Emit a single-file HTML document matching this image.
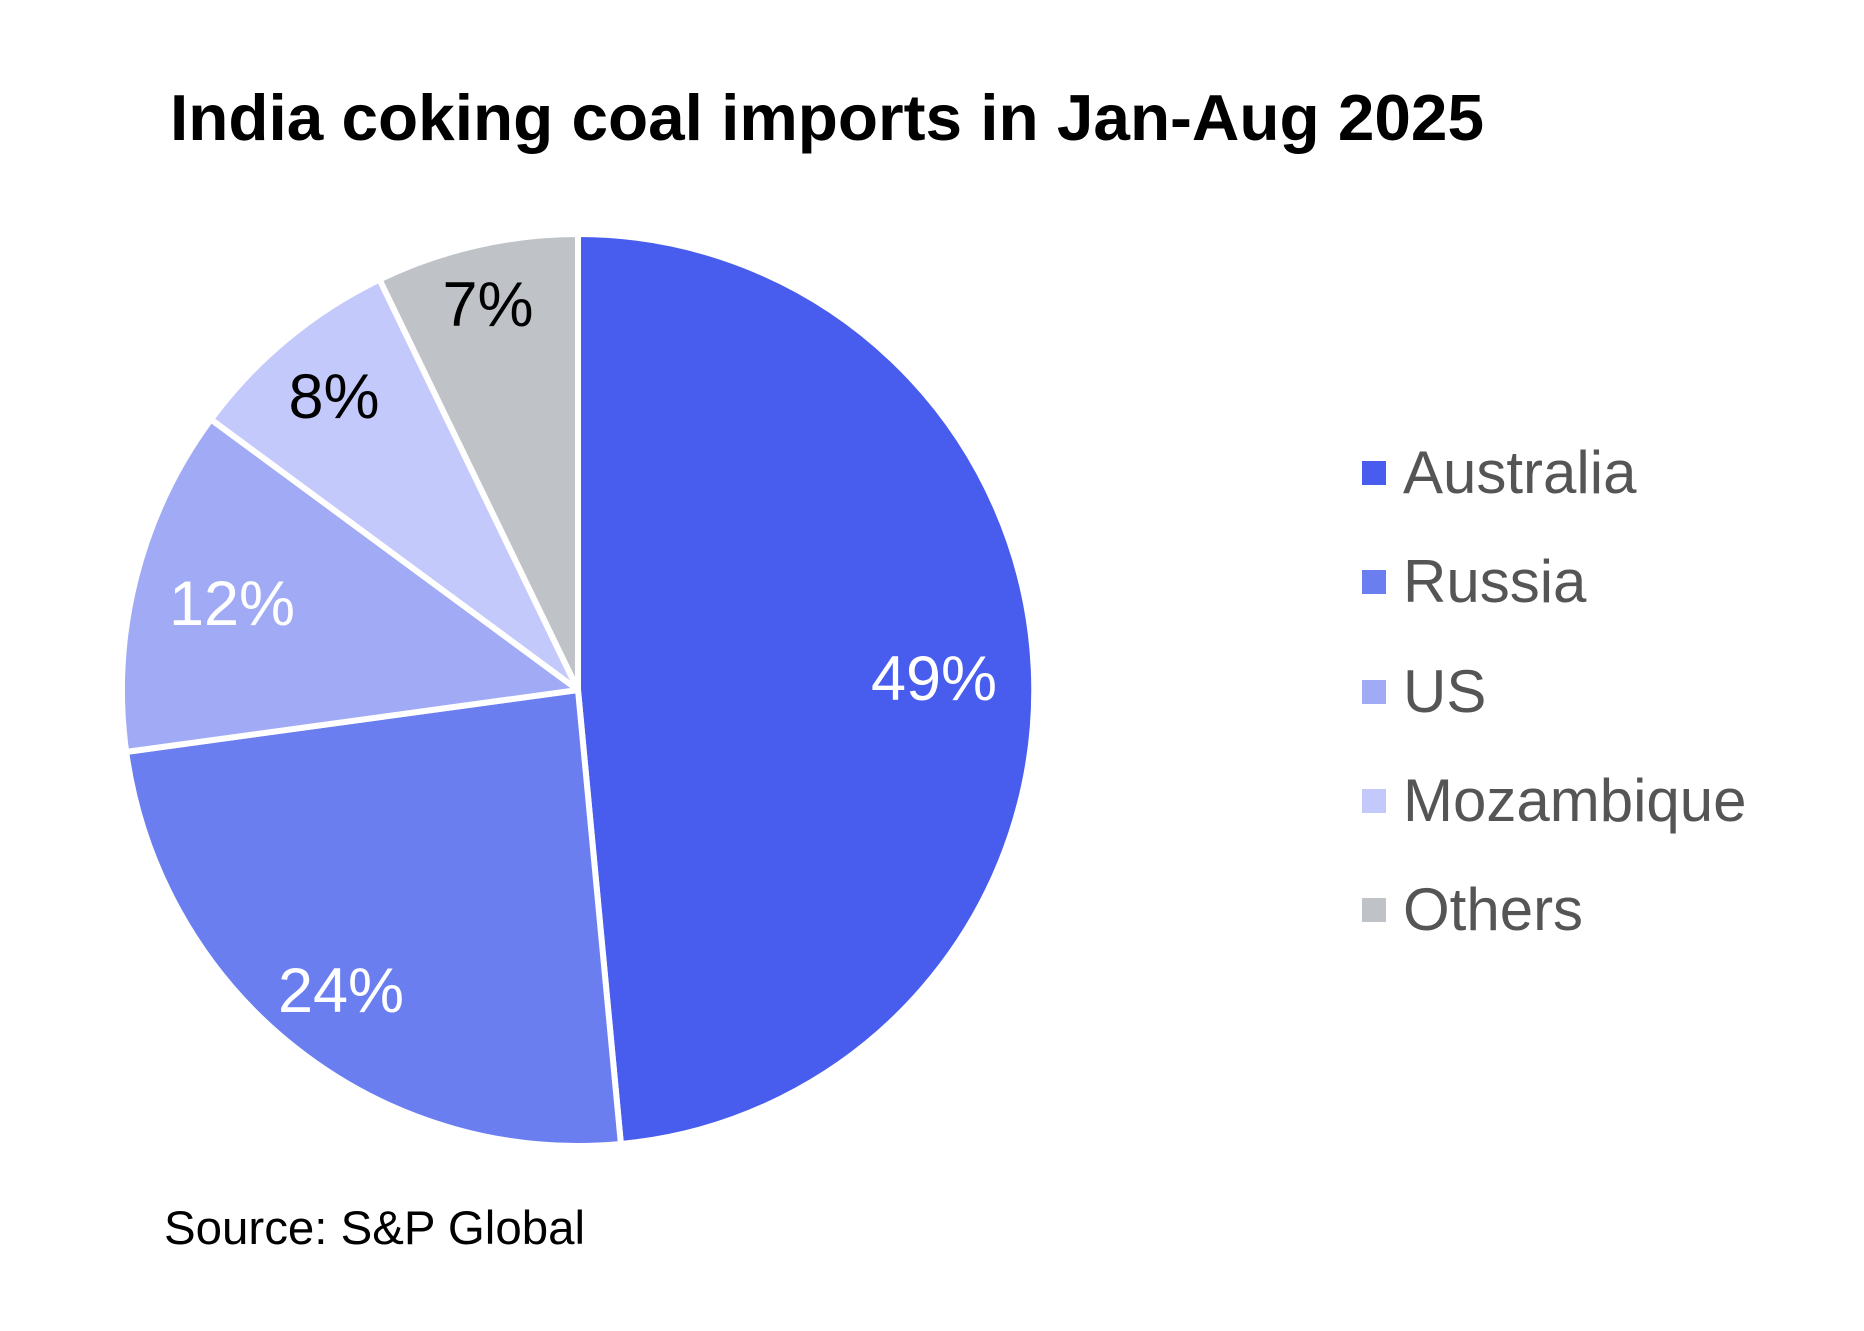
<!DOCTYPE html>
<html><head><style>body{margin:0;background:#fff}</style></head><body>
<svg width="1864" height="1326" viewBox="0 0 1864 1326" xmlns="http://www.w3.org/2000/svg" font-family="Liberation Sans, sans-serif">
<rect width="1864" height="1326" fill="#fff"/>
<text x="170" y="140" font-size="65" font-weight="bold" fill="#000" textLength="1314" lengthAdjust="spacingAndGlyphs">India coking coal imports in Jan-Aug 2025</text>
<g stroke="#fff" stroke-width="6" stroke-linejoin="round">
<path d="M578,690 L578,234 A456,456 0 0 1 620.9,1144 Z" fill="#485ded"/>
<path d="M578,690 L620.9,1144 A456,456 0 0 1 126.2,751.9 Z" fill="#6b7ef0"/>
<path d="M578,690 L126.2,751.9 A456,456 0 0 1 211,419.4 Z" fill="#a0aaf5"/>
<path d="M578,690 L211,419.4 A456,456 0 0 1 379.5,279.5 Z" fill="#c3c9fb"/>
<path d="M578,690 L379.5,279.5 A456,456 0 0 1 578,234 Z" fill="#bfc3c8"/>
</g>
<g font-size="63" text-anchor="middle">
<text x="934" y="700" fill="#fff">49%</text>
<text x="341" y="1012" fill="#fff">24%</text>
<text x="232" y="625" fill="#fff">12%</text>
<text x="334" y="418" fill="#000">8%</text>
<text x="488" y="326" fill="#000">7%</text>
</g>
<g font-size="60" fill="#555">
<rect x="1362" y="461" width="24" height="24" fill="#485ded"/><text x="1403" y="493">Australia</text>
<rect x="1362" y="570" width="24" height="24" fill="#6b7ef0"/><text x="1403" y="602">Russia</text>
<rect x="1362" y="680" width="24" height="24" fill="#a0aaf5"/><text x="1403" y="712">US</text>
<rect x="1362" y="789" width="24" height="24" fill="#c3c9fb"/><text x="1403" y="821">Mozambique</text>
<rect x="1362" y="898" width="24" height="24" fill="#bfc3c8"/><text x="1403" y="930">Others</text>
</g>
<text x="164" y="1244" font-size="47" fill="#000" textLength="421" lengthAdjust="spacingAndGlyphs">Source: S&amp;P Global</text>
</svg>
</body></html>
